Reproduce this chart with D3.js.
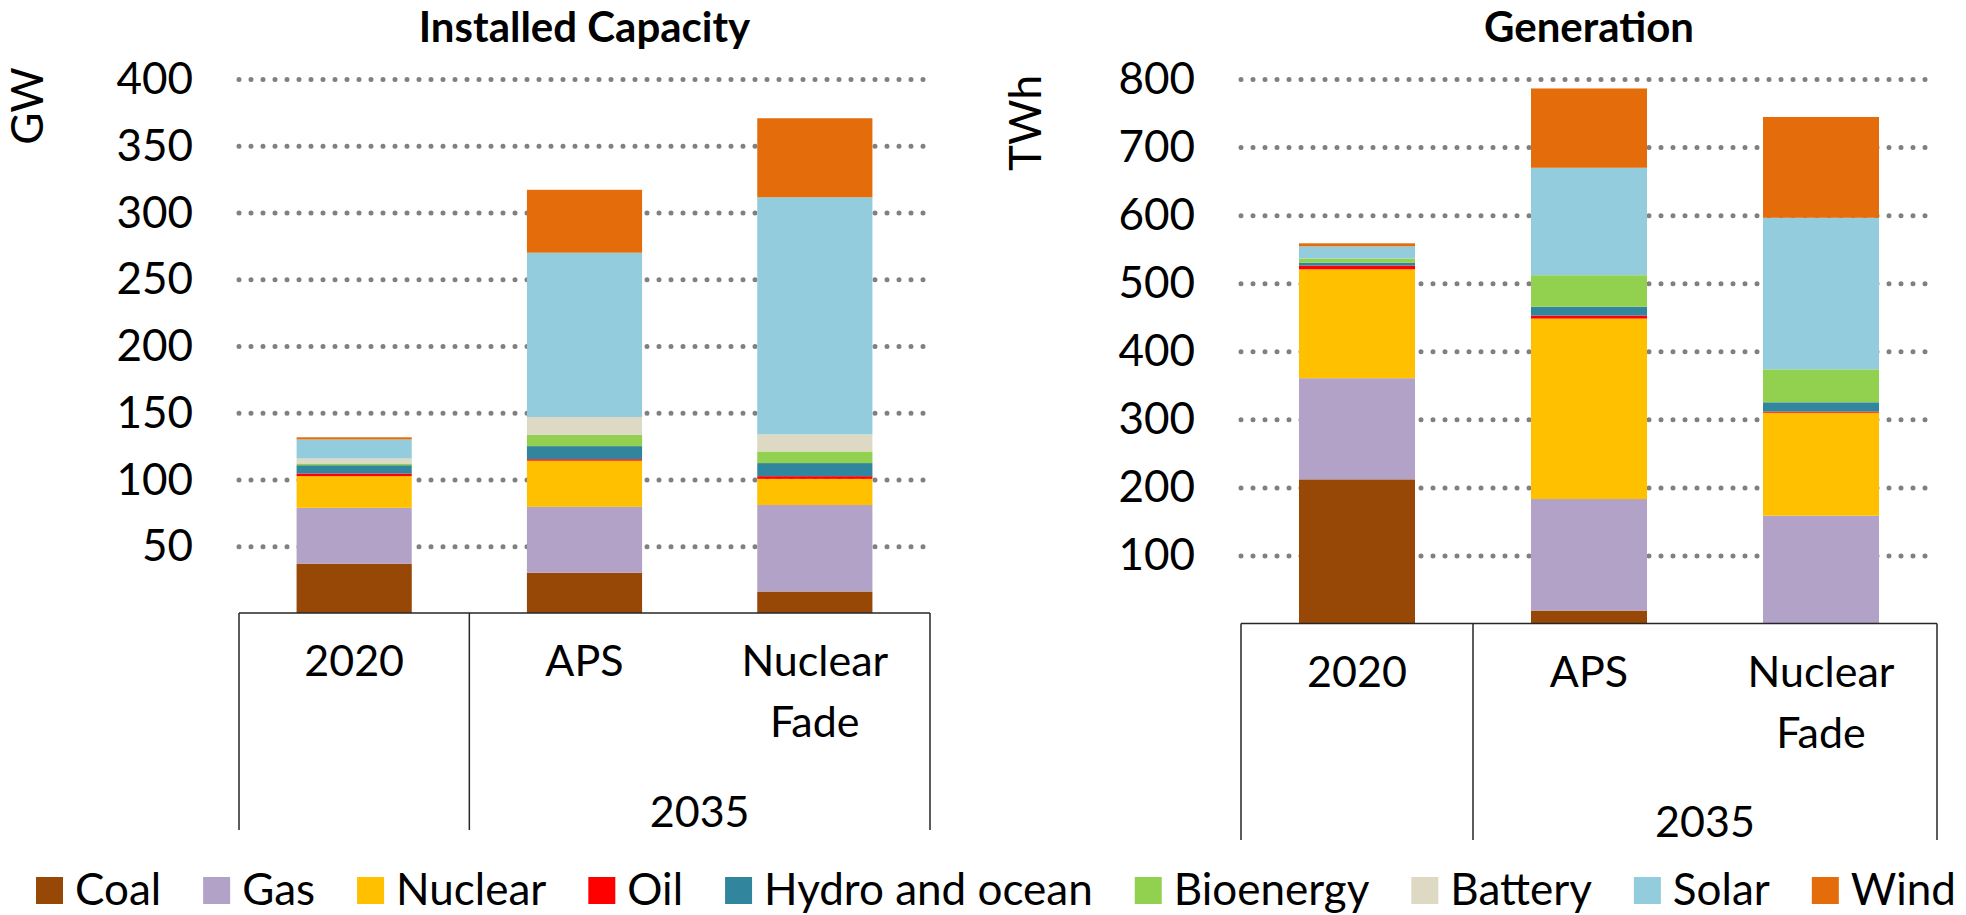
<!DOCTYPE html>
<html>
<head>
<meta charset="utf-8">
<script src="https://cdn.jsdelivr.net/npm/d3@7"></script>
<style>
  html, body { margin: 0; padding: 0; background: #ffffff; }
  svg { display: block; }
</style>
</head>
<body>
<script>
// Scenario columns and energy sources
const categories = ["2020", "APS", "Nuclear Fade"];
const sources = ["Coal", "Gas", "Nuclear", "Oil", "Hydro and ocean", "Bioenergy", "Battery", "Solar", "Wind"];
const colors = ["#974706", "#B3A2C7", "#FFC000", "#FF0000", "#31859C", "#92D050", "#DDD9C3", "#93CDDD", "#E46C0A"];

// Installed capacity (GW), one value per source in the order above
const capacity2020 = [37.0, 41.8, 23.7, 2.0, 6.2, 1.3, 3.7, 14.3, 1.6];
const capacityAPS  = [30.2, 49.3, 34.6, 1.1, 9.8, 8.4, 13.4, 123.1, 47.1];
const capacityFade = [16.1, 64.8, 19.6, 2.0, 9.8, 8.7, 12.8, 177.6, 59.2];

// Generation (TWh)
const generation2020 = [211.8, 148.6, 160.0, 5.4, 4.4, 6.0, 0, 18.0, 4.4];
const generationAPS  = [19.0, 163.9, 265.1, 4.4, 13.0, 46.3, 0, 157.9, 116.5];
const generationFade = [0, 158.4, 151.3, 1.7, 13.6, 48.4, 0, 222.7, 148.1];

// Axis ticks
const capacityTicks = [50, 100, 150, 200, 250, 300, 350, 400];
const generationTicks = [100, 200, 300, 400, 500, 600, 700, 800];

const FONT = "Lato, 'Open Sans', sans-serif";

const svg = d3.select("body").append("svg")
  .attr("width", 1966).attr("height", 915)
  .attr("font-family", FONT);

function toRows(arrays) {
  return categories.map((c, i) => {
    const row = { cat: c };
    sources.forEach((s, j) => { row[s] = arrays[i][j]; });
    return row;
  });
}

function panel(cfg) {
  const x = d3.scaleBand().domain(categories)
    .range([cfg.x0, cfg.x1]).paddingInner(0.5).paddingOuter(0.25);
  const y = d3.scaleLinear().domain([0, cfg.max]).range([cfg.zeroY, cfg.topY]);
  const g = svg.append("g");

  // Title
  g.append("text")
    .attr("x", (cfg.x0 + cfg.x1) / 2).attr("y", 42)
    .attr("text-anchor", "middle")
    .attr("font-size", 42).attr("font-weight", 700)
    .text(cfg.title);

  // Unit label
  g.append("text")
    .attr("transform", `translate(${cfg.unitX},${cfg.unitY}) rotate(-90)`)
    .attr("text-anchor", "middle")
    .attr("font-size", 44)
    .text(cfg.unit);

  // Dotted gridlines and value labels
  const axis = d3.axisLeft(y)
    .tickValues(cfg.ticks)
    .tickSize(-(cfg.x1 - cfg.x0))
    .tickPadding(cfg.pad)
    .tickFormat(d3.format("d"));
  const ag = g.append("g")
    .attr("transform", `translate(${cfg.x0},0)`)
    .call(axis)
    .attr("font-family", FONT)
    .attr("font-size", 44);
  ag.select(".domain").remove();
  ag.selectAll(".tick line")
    .attr("stroke", "#808080")
    .attr("stroke-width", 5)
    .attr("stroke-linecap", "round")
    .attr("stroke-dasharray", "0 12");
  ag.selectAll(".tick text").attr("fill", "#000").attr("dy", "0.33em");

  // Stacked bars
  const stacked = d3.stack().keys(sources)(toRows(cfg.data));
  g.append("g").selectAll("g")
    .data(stacked)
    .join("g")
    .attr("fill", (d, i) => colors[i])
    .selectAll("rect")
    .data(d => d)
    .join("rect")
    .attr("x", d => x(d.data.cat))
    .attr("y", d => y(d[1]))
    .attr("width", x.bandwidth())
    .attr("height", d => Math.max(0, y(d[0]) - y(d[1])));

  // Two-level category axis box
  const boundary = cfg.x0 + x.step();
  const box = g.append("g").attr("stroke", "#262626").attr("stroke-width", 1.5);
  box.append("line").attr("x1", cfg.x0).attr("x2", cfg.x1).attr("y1", cfg.zeroY).attr("y2", cfg.zeroY);
  [cfg.x0, boundary, cfg.x1].forEach(xx => {
    box.append("line").attr("x1", xx).attr("x2", xx).attr("y1", cfg.zeroY).attr("y2", cfg.boxBottom);
  });

  // Scenario labels
  const lab = g.append("g").attr("font-size", 43).attr("text-anchor", "middle");
  categories.forEach(c => {
    const t = lab.append("text").attr("x", x(c) + x.bandwidth() / 2).attr("y", cfg.zeroY + 63);
    c.split(" ").forEach((w, k) => {
      t.append("tspan").attr("x", x(c) + x.bandwidth() / 2).attr("dy", k === 0 ? 0 : 61).text(w);
    });
  });
  // Year group label spanning the two 2035 scenarios
  lab.append("text")
    .attr("x", (boundary + cfg.x1) / 2)
    .attr("y", cfg.boxBottom - 3)
    .text("2035");
}

panel({
  title: "Installed Capacity", unit: "GW", unitX: 43, unitY: 106,
  x0: 239, x1: 930, zeroY: 613, topY: 79, max: 400, pad: 46,
  ticks: capacityTicks, boxBottom: 830,
  data: [capacity2020, capacityAPS, capacityFade]
});

panel({
  title: "Generation", unit: "TWh", unitX: 1041, unitY: 123,
  x0: 1241, x1: 1937, zeroY: 623.5, topY: 79, max: 800, pad: 46,
  ticks: generationTicks, boxBottom: 840,
  data: [generation2020, generationAPS, generationFade]
});

// Legend across the bottom
const legend = svg.append("g").attr("font-size", 44);
const items = legend.selectAll("g").data(sources).join("g");
items.append("rect")
  .attr("width", 27).attr("height", 27)
  .attr("y", 877)
  .attr("fill", (d, i) => colors[i]);
items.append("text")
  .attr("x", 39).attr("y", 905)
  .text(d => d);
const widths = [];
items.select("text").each(function () { widths.push(this.getComputedTextLength()); });
const startX = 36, endX = 1956;
const used = d3.sum(widths) + 39 * sources.length;
const gap = (endX - startX - used) / (sources.length - 1);
let cx = startX;
items.each(function (d, i) {
  d3.select(this).attr("transform", `translate(${cx},0)`);
  cx += 39 + widths[i] + gap;
});
</script>
</body>
</html>
